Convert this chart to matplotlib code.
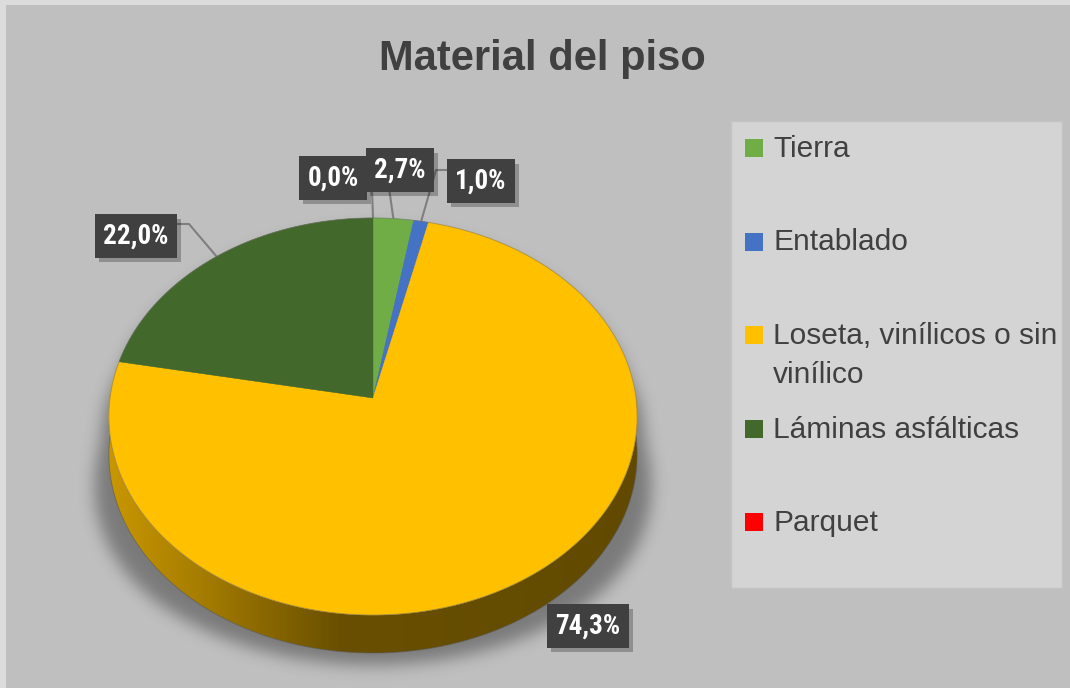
import textwrap
import numpy as np
import matplotlib
matplotlib.use('Agg')
import matplotlib.pyplot as plt
from matplotlib import font_manager
from matplotlib.patches import Polygon, Rectangle
from matplotlib.path import Path
import matplotlib.patheffects as pe

# data
categories = ['Tierra', 'Entablado', 'Loseta, vinílicos o sin vinílico',
              'Láminas asfálticas', 'Parquet']
values = [2.7, 1.0, 74.3, 22.0, 0.0]
colors = ['#70ad47', '#4472c4', '#ffc000', '#43682b', '#ff0000']
title = 'Material del piso'

# label boxes (pixel layout), same order as categories
label_xy = [(400, 170), (481, 181), (588, 626), (136, 236), (333, 178)]
label_attach = [(389, 188), (446, 170), (547, 613), (178, 224), (372, 190)]
label_elbow = [None, (436, 170), None, (189, 224), None]

# narrow bold font for the data labels if one is installed
names = {f.name for f in font_manager.fontManager.ttflist}
label_font, label_size, label_pad = 'Liberation Sans', 17.5, 0.36
for cand in ['Liberation Sans Narrow', 'Roboto Condensed', 'Open Sans Condensed', 'DejaVu Sans Condensed']:
    if cand in names:
        label_font, label_size, label_pad = cand, 19.5, 0.3
        break

W, H = 1070, 688
fig = plt.figure(figsize=(W / 100, H / 100), dpi=100, facecolor='#dcdcdc')
ax = fig.add_axes([0, 0, 1, 1])
ax.axis('off')
ax.add_patch(Rectangle((6, 5), W - 6, H - 5, fc='#bfbfbf', ec='none', zorder=0))

# tilted disc geometry (pixels)
cx, cy, rx, ry, k, depth = 373, 398, 263, 196.8, 0.0932, 38


def rim(theta):
    # theta in degrees, clockwise from 12 o'clock
    t = np.radians(theta)
    u, v = np.sin(t), np.cos(t)
    return cx + rx * u / (1 + k * v), cy - ry * v / (1 + k * v)


# soft shadow under the pie
tx, ty = rim(np.linspace(-90, 90, 200))
bx, by = rim(np.linspace(90, 270, 200))
sil = np.column_stack([np.r_[tx, bx], np.r_[ty, by + depth]])
grow = 1 + 0.12 * np.clip((sil[:, 1] - 360) / 230, 0, 1)
sil[:, 0] = cx + (sil[:, 0] - cx) * grow
sil[:, 1] += 12
yy, xx = np.mgrid[0:H, 0:W] + 0.5
mask = Path(sil).contains_points(np.column_stack([xx.ravel(), yy.ravel()])).reshape(H, W).astype(float)
g = np.exp(-0.5 * (np.arange(-24, 25) / 8.0) ** 2)
g /= g.sum()
mask = np.apply_along_axis(lambda r: np.convolve(r, g, 'same'), 1, mask)
mask = np.apply_along_axis(lambda c: np.convolve(c, g, 'same'), 0, mask)
shadow = np.zeros((H, W, 4))
shadow[..., 3] = mask * 0.36
ax.imshow(shadow, extent=(0, W, H, 0), zorder=1, aspect='auto', interpolation='bilinear')

# side of the pie with horizontal gradient
side = np.column_stack([np.r_[bx, bx[::-1]], np.r_[by, by[::-1] + depth]])
side_patch = Polygon(side, fc='none', ec='none', zorder=3)
ax.add_patch(side_patch)
gx = np.linspace(100, 650, 300)
stops_x = [100, 200, 340, 650]
stops_c = np.array([[0.80, 0.60, 0.0], [0.65, 0.49, 0.0], [0.41, 0.31, 0.0], [0.38, 0.29, 0.0]])
grad = np.stack([np.interp(gx, stops_x, stops_c[:, i]) for i in range(3)], axis=-1)[None, :, :]
im = ax.imshow(grad, extent=(100, 650, 670, 300), zorder=3, aspect='auto')
im.set_clip_path(side_patch)
ax.plot(bx, by + depth, color='#5a5a5a', lw=0.7, alpha=0.6, zorder=3.5)

# top wedges, clockwise from 12 o'clock
fr = np.array(values) / sum(values)
edges = np.concatenate([[0], np.cumsum(fr)]) * 360
for i, c in enumerate(colors):
    a0, a1 = edges[i], edges[i + 1]
    if a1 - a0 <= 0:
        continue
    th = np.linspace(a0, a1, max(3, int((a1 - a0) * 2)))
    xs, ys = rim(th)
    ax.add_patch(Polygon(np.column_stack([np.r_[cx, xs], np.r_[cy, ys]]),
                         fc=c, ec=c, lw=0.3, zorder=4))
ox, oy = rim(np.linspace(0, 360, 400))
ax.plot(ox, oy, color='#6e6e6e', lw=0.7, alpha=0.5, zorder=4.5)

# data labels with leader lines
for i in [4, 0, 1, 2, 3]:
    mid = (edges[i] + edges[i + 1]) / 2
    axp, ayp = rim(mid)
    if np.cos(np.radians(mid)) < 0:
        ayp = ayp + depth
    pts = [label_attach[i]] + ([label_elbow[i]] if label_elbow[i] else []) + [(axp, ayp)]
    pts = np.array(pts)
    ax.plot(pts[:, 0], pts[:, 1], color='#7f7f7f', lw=1.5, zorder=2)
    lbl = f'{values[i]:.1f}%'.replace('.', ',')
    z = 6.5 if i == 4 else 7
    t = ax.text(label_xy[i][0], label_xy[i][1], lbl, ha='center', va='center',
                fontsize=label_size, fontweight='bold', color='white', family=label_font,
                zorder=z,
                bbox=dict(boxstyle=f'square,pad={label_pad}', fc='#404040', ec='none', lw=0))
    t.get_bbox_patch().set_path_effects(
        [pe.withSimplePatchShadow(offset=(3, -3), shadow_rgbFace='k', alpha=0.25)])

# title
ax.text(542, 70, title, ha='center', va='baseline', fontsize=30, fontweight='bold',
        color='#404040', family='Liberation Sans', zorder=6)

# legend
ax.add_patch(Rectangle((731, 121), 331, 467, fc='#d4d4d4', ec='#c4c4c4', lw=1, zorder=5))
for i, (cat, c) in enumerate(zip(categories, colors)):
    y = 148 + i * 93.5
    ax.add_patch(Rectangle((745, y - 9), 18, 18, fc=c, ec='none', zorder=6))
    for j, line in enumerate(textwrap.wrap(cat, 23)):
        ax.text(773, y + 9 + j * 39, line, fontsize=21.5, color='#404040',
                va='baseline', ha='left', family='Liberation Sans', zorder=6)

ax.set_xlim(0, W)
ax.set_ylim(H, 0)
fig.savefig('out.png', dpi=100, facecolor=fig.get_facecolor())
